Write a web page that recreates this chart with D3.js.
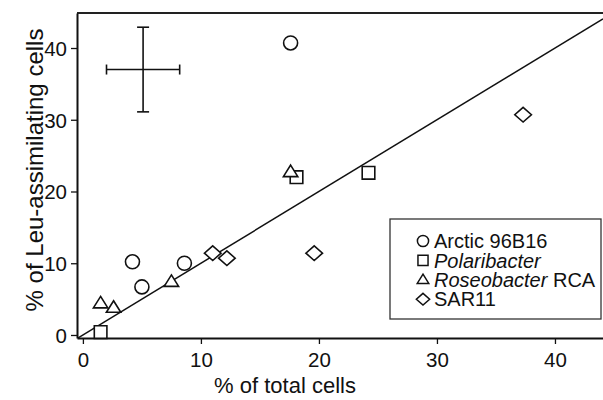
<!DOCTYPE html>
<html>
<head>
<meta charset="utf-8">
<script src="https://cdn.jsdelivr.net/npm/d3@7"></script>
<style>
  body { margin: 0; background: #fff; }
  svg text { font-family: "Liberation Sans", Arial, Helvetica, sans-serif; fill: #111; }
</style>
</head>
<body>
<svg id="chart" width="603" height="400"></svg>
<script>
// values (% of total cells, % of Leu-assimilating cells)
const arcticX = [4.2, 5.0, 8.6, 17.6];
const arcticY = [10.2, 6.7, 10.0, 40.7];
const polarX = [1.5, 18.1, 24.2];
const polarY = [0.4, 22.0, 22.6];
const roseoX = [1.5, 2.6, 7.5, 17.6];
const roseoY = [4.4, 3.8, 7.4, 22.7];
const sarX = [11.0, 12.2, 19.6, 37.3];
const sarY = [11.4, 10.7, 11.4, 30.7];

const groupNames = ["Arctic 96B16", "Polaribacter", "Roseobacter", "SAR11"];
const groupSuffix = ["", "", " RCA", ""];
const groupItalic = [false, true, true, false];
const groupShapes = ["circle", "square", "triangle", "diamond"];

// typical error (mean ± sd) shown as a cross
const errCenter = [5.1, 37.0];
const errX = 3.1;
const errY = 5.9;

const xTicks = [0, 10, 20, 30, 40];
const yTicks = [0, 10, 20, 30, 40];

const svg = d3.select("#chart");
const pLeft = 77, pRight = 603, pTop = 13, pBottom = 338;

const x = d3.scaleLinear().domain([-0.5, 44.07]).range([pLeft, pRight]);
const y = d3.scaleLinear().domain([-0.42, 44.88]).range([pBottom, pTop]);

function shape(type, s) {
  // s is a scale factor, 1 for the plotted marks
  if (type === "circle") {
    const r = 7 * s;
    return `M${r},0A${r},${r} 0 1,1 ${-r},0A${r},${r} 0 1,1 ${r},0Z`;
  }
  if (type === "square") {
    const h = 6.3 * s;
    return `M${-h},${-h}H${h}V${h}H${-h}Z`;
  }
  if (type === "triangle") {
    const w = 7.2 * s, t = 7 * s, b = 4.5 * s;
    return `M0,${-t}L${w},${b}H${-w}Z`;
  }
  const w = 8.3 * s, h = 7.3 * s;
  return `M0,${-h}L${w},0L0,${h}L${-w},0Z`;
}

const points = [];
[[arcticX, arcticY], [polarX, polarY], [roseoX, roseoY], [sarX, sarY]].forEach(([xs, ys], g) => {
  xs.forEach((v, i) => points.push({ x: v, y: ys[i], g }));
});

// frame: top line, left and bottom axes
svg.append("line")
  .attr("x1", pLeft).attr("x2", pRight).attr("y1", pTop).attr("y2", pTop)
  .attr("stroke", "#222").attr("stroke-width", 2);

const xAxis = svg.append("g")
  .attr("transform", `translate(0,${pBottom})`)
  .call(d3.axisBottom(x).tickValues(xTicks).tickSize(6).tickPadding(8).tickSizeOuter(0));
const yAxis = svg.append("g")
  .attr("transform", `translate(${pLeft},0)`)
  .call(d3.axisLeft(y).tickValues(yTicks).tickSize(6).tickPadding(4).tickSizeOuter(0));

[xAxis, yAxis].forEach(a => {
  a.select(".domain").attr("stroke", "#111").attr("stroke-width", 2);
  a.selectAll(".tick line").attr("stroke", "#111").attr("stroke-width", 1.3);
  a.selectAll(".tick text")
    .style("font-family", '"Liberation Sans", Arial, sans-serif')
    .attr("font-size", 20.5).attr("fill", "#111");
});
yAxis.selectAll(".tick text").attr("dy", "0.36em");

// 1:1 line
svg.append("clipPath").attr("id", "plot")
  .append("rect").attr("x", pLeft).attr("y", pTop).attr("width", pRight - pLeft).attr("height", pBottom - pTop);
svg.append("line")
  .attr("clip-path", "url(#plot)")
  .attr("x1", x(-0.5)).attr("y1", y(-0.5))
  .attr("x2", x(44.07)).attr("y2", y(44.07))
  .attr("stroke", "#111").attr("stroke-width", 1.5);

// error cross
const err = svg.append("g").attr("stroke", "#111").attr("stroke-width", 1.6).attr("fill", "none");
const cx = x(errCenter[0]), cy = y(errCenter[1]);
err.append("line").attr("x1", cx).attr("x2", cx).attr("y1", y(errCenter[1] + errY)).attr("y2", y(errCenter[1] - errY));
err.append("line").attr("x1", x(errCenter[0] - errX)).attr("x2", x(errCenter[0] + errX)).attr("y1", cy).attr("y2", cy);
[errCenter[1] + errY, errCenter[1] - errY].forEach(v =>
  err.append("line").attr("x1", cx - 6).attr("x2", cx + 6).attr("y1", y(v)).attr("y2", y(v)));
[errCenter[0] - errX, errCenter[0] + errX].forEach(v =>
  err.append("line").attr("x1", x(v)).attr("x2", x(v)).attr("y1", cy - 5).attr("y2", cy + 5));

// markers
svg.append("g").selectAll("path")
  .data(points)
  .join("path")
  .attr("transform", d => `translate(${x(d.x)},${y(d.y)})`)
  .attr("d", d => shape(groupShapes[d.g], 1))
  .attr("fill", "#fff")
  .attr("stroke", "#111")
  .attr("stroke-width", 1.6);

// axis titles
svg.append("text")
  .attr("x", 285).attr("y", 393)
  .attr("text-anchor", "middle")
  .attr("font-size", 22)
  .text("% of total cells");
svg.append("text")
  .attr("transform", "translate(43,170) rotate(-90)")
  .attr("text-anchor", "middle")
  .attr("font-size", 24)
  .text("% of Leu-assimilating cells");

// legend
const legend = svg.append("g");
legend.append("rect")
  .attr("x", 390).attr("y", 219).attr("width", 211).attr("height", 100)
  .attr("fill", "#fff").attr("stroke", "#333").attr("stroke-width", 1.3);

groupNames.forEach((name, i) => {
  const ly = 241 + i * 19.4;
  legend.append("path")
    .attr("transform", `translate(423,${ly})`)
    .attr("d", shape(groupShapes[i], 0.8))
    .attr("fill", "none").attr("stroke", "#111").attr("stroke-width", 1.5);
  const t = legend.append("text")
    .attr("x", 434).attr("y", ly).attr("dy", "0.36em")
    .attr("font-size", 20);
  t.append("tspan").attr("font-style", groupItalic[i] ? "italic" : "normal").text(name);
  if (groupSuffix[i]) t.append("tspan").text(groupSuffix[i]);
});
</script>
</body>
</html>
